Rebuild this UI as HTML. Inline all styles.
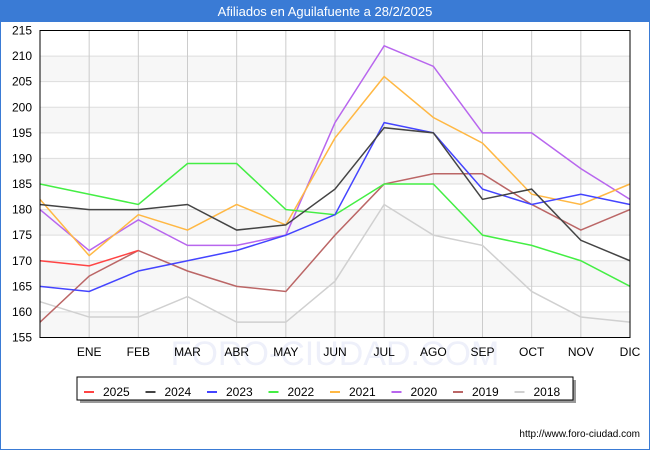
<!DOCTYPE html>
<html><head><meta charset="utf-8"><style>
body{margin:0;width:650px;height:450px;overflow:hidden;background:#fff;font-family:"Liberation Sans",sans-serif}
</style></head><body>
<svg width="650" height="450" xmlns="http://www.w3.org/2000/svg" font-family="Liberation Sans, sans-serif">
<rect x="0" y="0" width="650" height="450" fill="#fff" stroke="#3a7bd5" stroke-width="2"/>
<rect x="0" y="0" width="650" height="22" fill="#3a7bd5"/>
<text x="325" y="16" text-anchor="middle" fill="#fff" font-size="13">Afiliados en Aguilafuente a 28/2/2025</text>
<g id="bands"></g><g id="grid"></g>
<text x="335" y="365" text-anchor="middle" font-size="34" fill="#eef0fa">FORO-CIUDAD.COM</text>
<g id="series"></g>
<rect x="40" y="30.5" width="590" height="307" fill="none" stroke="#000"/>
<g id="axes"></g>
<rect x="80" y="380" width="496" height="23" fill="#999"/>
<rect x="77" y="377" width="496" height="23" fill="#fff" stroke="#000"/>
<g id="legend"></g>
<text x="640" y="437" text-anchor="end" font-size="10" fill="#000">http://www.foro-ciudad.com</text>
</svg>
<script>
const months=["","ENE","FEB","MAR","ABR","MAY","JUN","JUL","AGO","SEP","OCT","NOV","DIC"];
const yTicks=[155,160,165,170,175,180,185,190,195,200,205,210,215];
const years=["2025","2024","2023","2022","2021","2020","2019","2018"];
const colors=["#ff4444","#444444","#4444ff","#44ee44","#ffb844","#b866ee","#bb6666","#d0d0d0"];
const s2025=[170,169,172];
const s2024=[181,180,180,181,176,177,184,196,195,182,184,174,170];
const s2023=[165,164,168,170,172,175,179,197,195,184,181,183,181];
const s2022=[185,183,181,189,189,180,179,185,185,175,173,170,165];
const s2021=[182,171,179,176,181,177,194,206,198,193,183,181,185];
const s2020=[180,172,178,173,173,175,197,212,208,195,195,188,182];
const s2019=[158,167,172,168,165,164,175,185,187,187,181,176,180];
const s2018=[162,159,159,163,158,158,166,181,175,173,164,159,158];
const series=[s2025,s2024,s2023,s2022,s2021,s2020,s2019,s2018];
const NS="http://www.w3.org/2000/svg";
const x=i=>40+i*(590/12);
const y=v=>337.5-(v-155)*(307/60);
function mk(t,a,p){const e=document.createElementNS(NS,t);for(const k in a)e.setAttribute(k,a[k]);p.appendChild(e);return e;}
const bands=document.getElementById('bands'),grid=document.getElementById('grid'),axes=document.getElementById('axes');
for(let i=0;i<yTicks.length-1;i++){if(i%2==0){const r=mk('rect',{x:40,y:y(yTicks[i+1]),width:590,height:y(yTicks[i])-y(yTicks[i+1]),fill:'#f7f7f7'},bands);

}}
yTicks.forEach(v=>{const l=mk('line',{x1:40,x2:630,y1:y(v),y2:y(v),stroke:'#ddd'},grid);


const t=mk('text',{x:32,y:y(v)+4,'text-anchor':'end','font-size':12},axes);t.textContent=v;

});
months.forEach((m,i)=>{if(i==0)return;const l=mk('line',{x1:x(i),x2:x(i),y1:30.5,y2:337.5,stroke:'#ccc'},grid);


const t=mk('text',{x:x(i),y:356,'text-anchor':'middle','font-size':12},axes);t.textContent=m;

});
const sg=document.getElementById('series');
for(let k=series.length-1;k>=0;k--){const p=mk('polyline',{points:series[k].map((v,i)=>x(i)+','+y(v)).join(' '),fill:'none',stroke:colors[k],'stroke-width':1.5},sg);

}
const lg=document.getElementById('legend');
years.forEach((yr,k)=>{const lx=84+k*61.5;const l=mk('line',{x1:lx,x2:lx+10,y1:392,y2:392,stroke:colors[k],'stroke-width':2},lg);


const t=mk('text',{x:lx+19,y:396,'font-size':12},lg);t.textContent=yr;

});
</script>
</body></html>
